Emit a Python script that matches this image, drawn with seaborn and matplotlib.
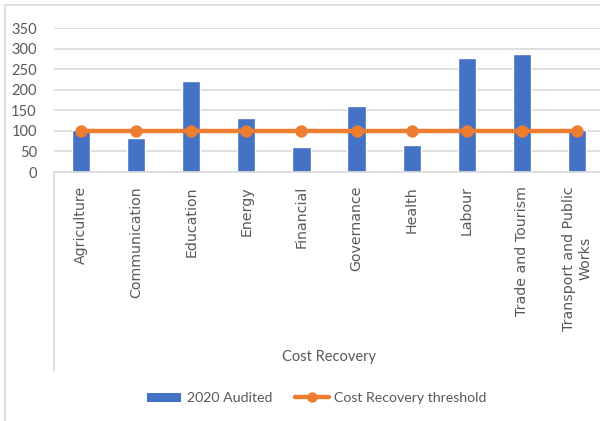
import matplotlib
matplotlib.use("Agg")
import matplotlib.pyplot as plt
from matplotlib.lines import Line2D
from matplotlib.patches import Rectangle
import seaborn as sns
import pandas as pd

# Sector categories and values
sectors = ["Agriculture", "Communication", "Education", "Energy", "Financial",
           "Governance", "Health", "Labour", "Trade and Tourism",
           "Transport and Public\nWorks"]
audited_2020 = [102, 82, 220, 131, 61, 161, 65, 276, 287, 102]
threshold = [100, 100, 100, 100, 100, 100, 100, 100, 100, 100]
y_ticks = [0, 50, 100, 150, 200, 250, 300, 350]

BLUE = "#4472C4"
ORANGE = "#ED7D31"
GRID = "#D9D9D9"
TEXT = "#595959"

df = pd.DataFrame({"sector": sectors, "audited": audited_2020, "threshold": threshold})

sns.set_style("white")
plt.rcParams["font.family"] = ["Lato", "DejaVu Sans"]

fig = plt.figure(figsize=(6.0, 4.21), dpi=100)
W, H = 600, 421
ax_left, ax_right = 53.5, 604.5
ax_top, ax_bottom = 28, 172
ax = fig.add_axes([ax_left / W, 1 - ax_bottom / H,
                   (ax_right - ax_left) / W, (ax_bottom - ax_top) / H])

# Bars
sns.barplot(data=df, x="sector", y="audited", color=BLUE, width=0.33,
            saturation=1, ax=ax, zorder=2, label="2020 Audited")

# Threshold line with markers
sns.pointplot(data=df, x="sector", y="threshold", color=ORANGE,
              markers="o", linestyles="-", linewidth=3.2, markersize=6.5,
              ax=ax, zorder=3, label="Cost Recovery threshold")

ax.set_xlim(-0.5, len(sectors) - 0.5)
ax.set_ylim(0, 350)
ax.set_yticks(y_ticks)
ax.set_yticklabels([str(v) for v in y_ticks], color=TEXT, fontsize=10.5)
ax.yaxis.grid(True, color=GRID, linewidth=1.2, zorder=0)
ax.set_axisbelow(True)

ax.set_xticks(range(len(sectors)))
ax.set_xticklabels(sectors, rotation=90, va="top", ha="center",
                   multialignment="center", color=TEXT, fontsize=10.2,
                   family="DejaVu Sans")
ax.tick_params(axis="both", length=0)
ax.tick_params(axis="x", pad=10)
ax.tick_params(axis="y", pad=12)

for side in ["top", "right", "left"]:
    ax.spines[side].set_visible(False)
ax.spines["bottom"].set_color(GRID)
ax.spines["bottom"].set_linewidth(1.2)

ax.set_xlabel("")
ax.set_ylabel("")

# Category-axis left boundary extending under the labels
fig.add_artist(Line2D([ax_left / W, ax_left / W], [1 - ax_bottom / H, 1 - 371 / H],
                      color=GRID, linewidth=1.2))

# Axis title
fig.text((ax_left + ax_right) / 2 / W, 1 - 357 / H, "Cost Recovery",
         ha="center", va="center", color=TEXT, fontsize=10.5)

# Chart border
fig.add_artist(Rectangle((5 / W, -0.05), 1.2, 1 - 5 / H + 0.05, fill=False,
                         edgecolor=GRID, linewidth=1.2))

# Legend
handles = [Rectangle((0, 0), 1, 1, facecolor=BLUE, edgecolor="none"),
           Line2D([0], [0], color=ORANGE, linewidth=3.2, marker="o", markersize=6.5)]
leg = fig.legend(handles, ["2020 Audited", "Cost Recovery threshold"],
                 loc="center", bbox_to_anchor=(317 / W, 1 - 398 / H), ncol=2,
                 frameon=False, fontsize=10.2, handlelength=2.4, handleheight=0.6,
                 columnspacing=1.6, handletextpad=0.4)
for t in leg.get_texts():
    t.set_color(TEXT)
if ax.get_legend() is not None:
    ax.get_legend().remove()

fig.savefig("out.png", dpi=100)
